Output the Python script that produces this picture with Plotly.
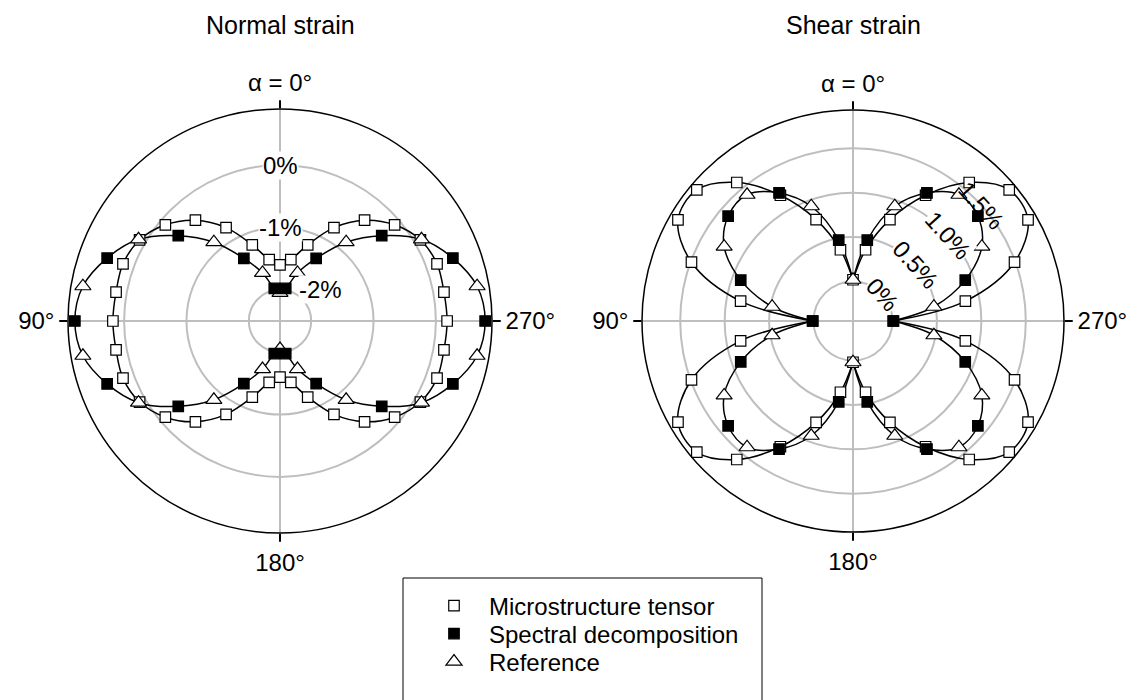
import math
import plotly.graph_objects as go

W, H = 1141, 700
FONT = "Liberation Sans, Arial, sans-serif"

# Orientation angle alpha (degrees) at which each method was evaluated
theta_micro = list(range(0, 360, 10))
theta_spec = list(range(10, 360, 20))
theta_ref = list(range(0, 360, 20))

# Normal strain (%)
normal_micro = [-1.60, -1.50, -1.20, -0.77, -0.39, -0.10, 0.10, 0.18, 0.17,
                0.18, 0.17, 0.18, 0.10, -0.10, -0.39, -0.77, -1.20, -1.50,
                -1.60, -1.50, -1.20, -0.77, -0.39, -0.10, 0.10, 0.18, 0.17,
                0.18, 0.17, 0.18, 0.10, -0.10, -0.39, -0.77, -1.20, -1.50]
normal_spec = [-1.97, -1.34, -0.37, 0.45, 0.79, 0.45, -0.37, -1.34, -1.97,
               -1.97, -1.34, -0.37, 0.45, 0.79, 0.45, -0.37, -1.34, -1.97]
normal_ref = [-2.05, -1.68, -0.85, 0.12, 0.71, 0.71, 0.12, -0.85, -1.68,
              -2.05, -1.68, -0.85, 0.12, 0.71, 0.71, 0.12, -0.85, -1.68]

# Shear strain magnitude (%)
shear_micro = [0.02, 0.37, 0.77, 1.19, 1.59, 1.85, 1.83, 1.49, 0.84,
               0.01, 0.84, 1.49, 1.83, 1.85, 1.59, 1.19, 0.77, 0.37,
               0.02, 0.37, 0.77, 1.19, 1.59, 1.85, 1.83, 1.49, 0.84,
               0.01, 0.84, 1.49, 1.83, 1.85, 1.59, 1.19, 0.77, 0.37]
shear_spec = [0.48, 1.22, 1.39, 0.90, 0.01, 0.90, 1.39, 1.22, 0.48,
              0.48, 1.22, 1.39, 0.90, 0.01, 0.90, 1.39, 1.22, 0.48]
shear_ref = [0.02, 0.93, 1.41, 1.23, 0.48, 0.48, 1.23, 1.41, 0.93,
             0.02, 0.93, 1.41, 1.23, 0.48, 0.48, 1.23, 1.41, 0.93]

# Axis ticks
angle_ticks = [0, 90, 180, 270]
angle_tick_text = ["α = 0°", "90°", "180°", "270°"]
normal_ticks = [0, -1, -2]
normal_tick_text = ["0%", "-1%", "-2%"]
shear_ticks = [0, 0.5, 1.0, 1.5]
shear_tick_text = ["0%", "0.5%", "1.0%", "1.5%"]

series_names = ["Microstructure tensor", "Spectral decomposition", "Reference"]
legend_ids = ["legend", "legend2", "legend3"]

# Subplot geometry
NORMAL_DOMAIN = dict(x=[68 / W, 492 / W], y=[(H - 533) / H, (H - 109) / H])
SHEAR_DOMAIN = dict(x=[642 / W, 1064 / W], y=[(H - 532) / H, (H - 110) / H])
NORMAL_RANGE = [-2.5, 0.9]
SHEAR_RANGE = [-0.444, 1.93]

GRID = "#bebebe"
LINE = dict(color="black", width=1.5, shape="spline", smoothing=1)


def closed(theta, r):
    return list(theta) + [theta[0]], list(r) + [r[0]]


def merged(th_a, r_a, th_b, r_b):
    pts = sorted(zip(list(th_a) + list(th_b), list(r_a) + list(r_b)))
    return [p[0] for p in pts], [p[1] for p in pts]


def lobes(theta, r):
    """Split a full-turn curve into four quarter-turn segments (cusps at 0/90/180/270)."""
    lookup = dict(zip(theta, r))
    th_out, r_out = [], []
    for start in (0, 90, 180, 270):
        for t in range(start, start + 91, 10):
            th_out.append(t)
            r_out.append(lookup[t % 360])
        th_out.append(None)
        r_out.append(None)
    return th_out, r_out


def add_panel(fig, subplot, micro, spec, ref, shape_fn, show_legend):
    th_line, r_line = merged(theta_spec, spec, theta_ref, ref)
    for th, rr in (shape_fn(theta_micro, micro), shape_fn(th_line, r_line)):
        fig.add_trace(go.Scatterpolar(
            theta=th, r=rr, mode="lines", line=LINE, connectgaps=False,
            showlegend=False, hoverinfo="skip", subplot=subplot))
    fig.add_trace(go.Scatterpolar(
        theta=theta_micro, r=micro, mode="markers", name=series_names[0],
        marker=dict(symbol="square", size=10.5, color="white",
                    line=dict(color="black", width=1.2)),
        showlegend=show_legend, legend=legend_ids[0], subplot=subplot))
    fig.add_trace(go.Scatterpolar(
        theta=theta_ref, r=ref, mode="markers", name=series_names[2],
        marker=dict(symbol="triangle-up", size=14, color="white",
                    line=dict(color="black", width=1.2)),
        showlegend=show_legend, legend=legend_ids[2], subplot=subplot))
    fig.add_trace(go.Scatterpolar(
        theta=theta_spec, r=spec, mode="markers", name=series_names[1],
        marker=dict(symbol="square", size=10.5, color="black",
                    line=dict(color="black", width=1.2)),
        showlegend=show_legend, legend=legend_ids[1], subplot=subplot))


def polar_layout(domain, rng, ticks):
    return dict(
        domain=domain,
        bgcolor="white",
        angularaxis=dict(
            rotation=90, direction="counterclockwise",
            tickmode="array", tickvals=angle_ticks, ticktext=angle_tick_text,
            showline=True, linecolor="black", linewidth=1.5,
            ticks="outside", ticklen=8, tickwidth=1.5, tickcolor="black",
            showgrid=True, gridcolor=GRID, gridwidth=1.5,
            tickfont=dict(family=FONT, size=24, color="black")),
        radialaxis=dict(
            range=rng, tickmode="array", tickvals=ticks,
            showticklabels=False, showline=False, ticks="",
            showgrid=True, gridcolor=GRID, gridwidth=1.5))


def to_paper(domain, rng, r, theta):
    x0, x1 = domain["x"]
    y0, y1 = domain["y"]
    cx, cy = (x0 + x1) / 2 * W, (y0 + y1) / 2 * H
    radius = min((x1 - x0) * W, (y1 - y0) * H) / 2
    rp = (r - rng[0]) / (rng[1] - rng[0]) * radius
    a = math.radians(90 + theta)
    return (cx + rp * math.cos(a)) / W, (cy + rp * math.sin(a)) / H


def legend_box(row_y):
    return dict(x=419 / W, y=1 - row_y / H, xanchor="left", yanchor="middle",
                bgcolor="rgba(0,0,0,0)", borderwidth=0, itemwidth=60,
                font=dict(family=FONT, size=24, color="black"))


fig = go.Figure()
add_panel(fig, "polar", normal_micro, normal_spec, normal_ref, closed, True)
add_panel(fig, "polar2", shear_micro, shear_spec, shear_ref, lobes, False)

annotations = []
# Panel titles
for text, dom in (("Normal strain", NORMAL_DOMAIN), ("Shear strain", SHEAR_DOMAIN)):
    annotations.append(dict(
        text=text, x=sum(dom["x"]) / 2, y=1 - 25 / H, xref="paper", yref="paper",
        xanchor="center", yanchor="middle", showarrow=False,
        font=dict(family=FONT, size=25, color="black")))

# Radial labels, normal strain: along the alpha = 0 direction
for val, text in zip(normal_ticks, normal_tick_text):
    x, y = to_paper(NORMAL_DOMAIN, NORMAL_RANGE, val, 0)
    side = dict(xanchor="left", xshift=18) if val == -2 else dict(xanchor="center")
    annotations.append(dict(
        text=text, x=x, y=y, xref="paper", yref="paper", showarrow=False,
        yanchor="middle", bgcolor="white", borderpad=0,
        font=dict(family=FONT, size=24, color="black"), **side))

# Radial labels, shear strain: written tangentially along a diagonal
for val, text in zip(shear_ticks, shear_tick_text):
    x, y = to_paper(SHEAR_DOMAIN, SHEAR_RANGE, val, 312)
    annotations.append(dict(
        text=text, x=x, y=y, xref="paper", yref="paper", showarrow=False,
        xanchor="center", yanchor="middle", textangle=48, borderpad=0,
        bgcolor="rgba(0,0,0,0)" if val == 1.5 else "white",
        font=dict(family=FONT, size=24, color="black")))

fig.update_layout(
    width=W, height=H,
    margin=dict(l=0, r=0, t=0, b=0),
    paper_bgcolor="white",
    polar=polar_layout(NORMAL_DOMAIN, NORMAL_RANGE, normal_ticks),
    polar2=polar_layout(SHEAR_DOMAIN, SHEAR_RANGE, shear_ticks),
    annotations=annotations,
    shapes=[dict(type="rect", xref="paper", yref="paper",
                 x0=403 / W, x1=762 / W, y0=-0.2, y1=1 - 578 / H,
                 line=dict(color="black", width=1), fillcolor="rgba(0,0,0,0)")],
    legend=legend_box(606),
    legend2=legend_box(634),
    legend3=legend_box(662),
    showlegend=True,
)

fig.write_html("out.html")
